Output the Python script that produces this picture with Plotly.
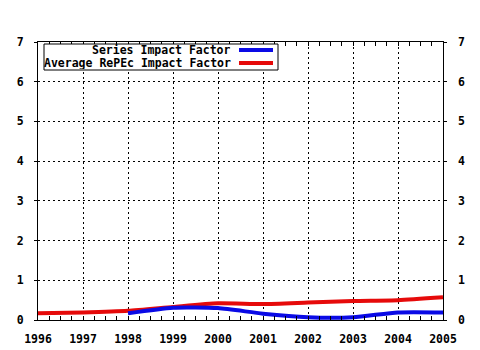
import plotly.graph_objects as go

years = [1996, 1997, 1998, 1999, 2000, 2001, 2002, 2003, 2004, 2005]
series_years = [1998, 1999, 2000, 2001, 2002, 2003, 2004, 2005]
series_if = [0.17, 0.31, 0.30, 0.16, 0.07, 0.07, 0.19, 0.19]
average_if = [0.17, 0.19, 0.23, 0.33, 0.42, 0.40, 0.44, 0.48, 0.50, 0.57]
y_ticks = [0, 1, 2, 3, 4, 5, 6, 7]
legend_names = ["Series Impact Factor", "Average RePEc Impact Factor"]

BLUE = "#0a0ae6"
RED = "#e60a0a"
FONT = dict(family="DejaVu Sans Mono", size=11.5, color="black", weight="bold")

fig = go.Figure()
fig.add_trace(go.Scatter(x=years, y=average_if, mode="lines",
                         line=dict(color=RED, width=4, shape="spline", smoothing=0.6),
                         showlegend=False))
fig.add_trace(go.Scatter(x=series_years, y=series_if, mode="lines",
                         line=dict(color=BLUE, width=4, shape="spline", smoothing=0.6),
                         showlegend=False))
fig.add_trace(go.Scatter(x=[None], y=[None], yaxis="y2", showlegend=False))

axis_common = dict(showline=True, linecolor="black", linewidth=1,
                   showgrid=True, gridcolor="black", gridwidth=1, griddash="2px,3px",
                   zeroline=False, tickfont=FONT, tickcolor="black", automargin=False)

fig.update_layout(
    width=480, height=350, autosize=False,
    margin=dict(l=38, r=37, t=42, b=30),
    paper_bgcolor="white", plot_bgcolor="white",
    xaxis=dict(range=[1996, 2005], tickmode="array", tickvals=years,
               ticktext=[str(y) for y in years], mirror="allticks",
               ticks="inside", ticklen=4, ticklabelstandoff=8,
               minor=dict(dtick=0.25, ticks="inside", ticklen=3, tickcolor="black",
                          showgrid=False),
               **axis_common),
    yaxis=dict(range=[0, 7], tickmode="array", tickvals=y_ticks,
               ticktext=[str(v) for v in y_ticks], mirror="allticks",
               ticks="outside", ticklen=3, ticklabelstandoff=8, **axis_common),
    yaxis2=dict(range=[0, 7], tickmode="array", tickvals=y_ticks,
                ticktext=[str(v) for v in y_ticks], overlaying="y", side="right",
                showline=False, showgrid=False, zeroline=False, tickfont=FONT,
                ticks="", ticklabelstandoff=14, automargin=False),
)

# custom legend box (text right-aligned, line sample on the right)
x0p, x1p = (44 - 38) / 405, (278 - 38) / 405
y0p, y1p = (320 - 70) / 278, (320 - 44) / 278
fig.add_shape(type="rect", xref="paper", yref="paper", x0=x0p, x1=x1p, y0=y0p, y1=y1p,
              line=dict(color="black", width=1), fillcolor="white", layer="above")
rows = [(320 - 50) / 278, (320 - 63) / 278]
for name, color, yp in zip(legend_names, [BLUE, RED], rows):
    fig.add_annotation(x=(232 - 38) / 405, y=yp, xref="paper", yref="paper",
                       text=name, showarrow=False, xanchor="right", yanchor="middle",
                       font=FONT, height=12, borderpad=0)
    fig.add_shape(type="line", xref="paper", yref="paper",
                  x0=(239 - 38) / 405, x1=(273 - 38) / 405, y0=yp, y1=yp,
                  line=dict(color=color, width=4), layer="above")

fig.write_html("out.html")
